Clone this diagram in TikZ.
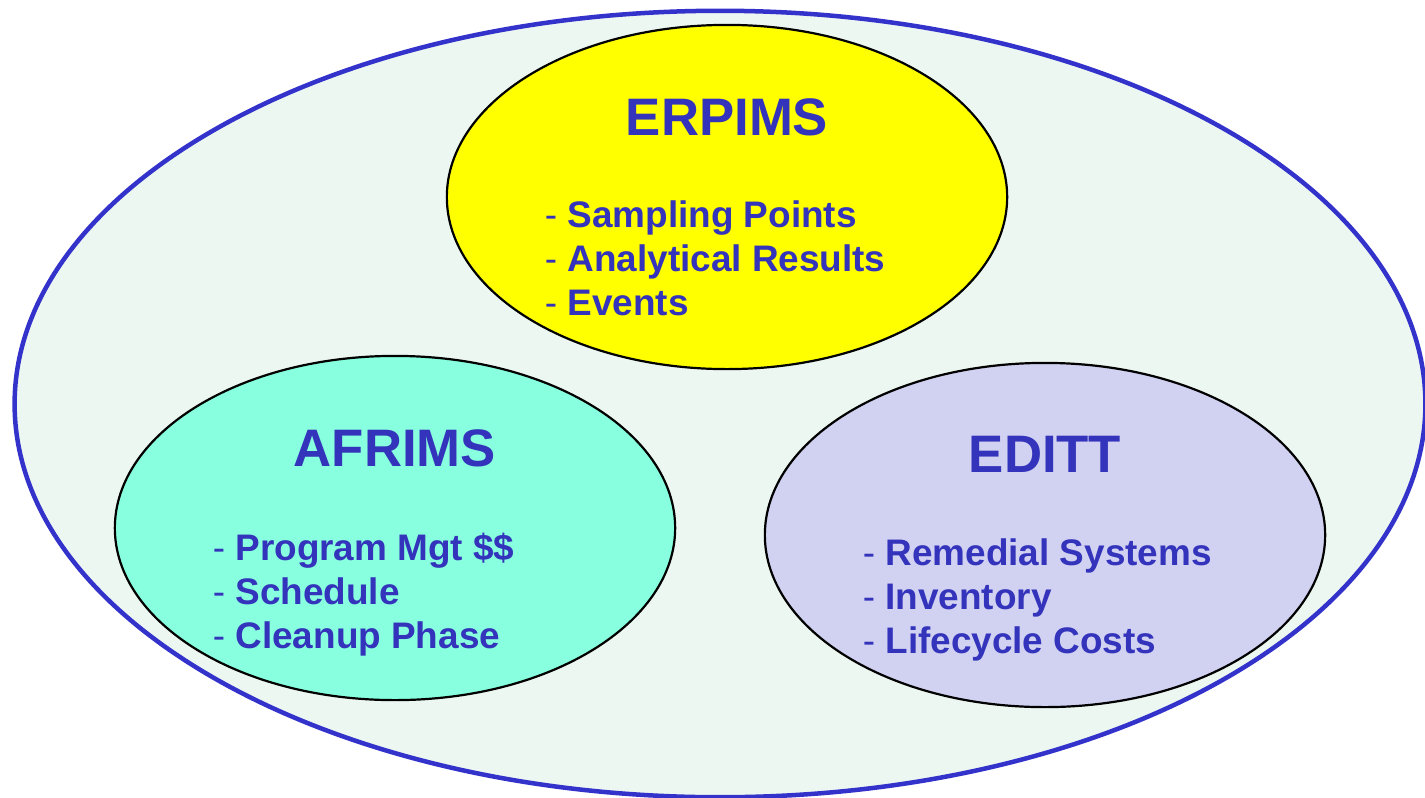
\documentclass[tikz,border=0pt]{standalone}
\usepackage{fontspec}
\setmainfont{Liberation Sans}
\usepackage{tikz}
\usetikzlibrary{positioning,shapes.geometric}
\definecolor{ringblue}{RGB}{51,51,204}
\definecolor{textblue}{RGB}{51,51,187}
\definecolor{mintbg}{RGB}{237,247,241}
\definecolor{lemon}{RGB}{255,255,0}
\definecolor{aqua}{RGB}{136,255,222}
\definecolor{lavender}{RGB}{209,209,242}

\begin{document}
\begin{tikzpicture}[x=0.01cm, y=-0.01cm, outer sep=0pt,
		system/.style={ellipse, draw, line width=0.022cm, minimum width=5.6cm, minimum height=3.44cm, inner sep=0pt},
		title/.style={text=textblue, anchor=base, font=\fontsize{15}{18}\selectfont\bfseries},
		items/.style={text=textblue, anchor=base west, align=left, inner sep=0pt, font=\fontsize{10.5}{12.52}\selectfont}]
		\useasboundingbox (0,0) rectangle (1425,797);
		\node[ellipse, draw=ringblue, fill=mintbg, line width=0.045cm, minimum width=14.1cm, minimum height=7.86cm] (region) at (720,404) {};
		\node[system, fill=lemon] (erpims) at (727,197) {};
		\node[system, fill=aqua] (afrims) at (395,528) {};
		\node[system, fill=lavender] (editt) at (1045,535) {};
		\node[title] (erpimstitle) at ([yshift=0.61cm]erpims.center) {ERPIMS};
		\node[items] (erpimslist) at ([xshift=-1.82cm, yshift=-1.18cm]erpims.center) {- \textbf{Sampling Points}\\- \textbf{Analytical Results}\\- \textbf{Events}};
		\node[title] (afrimstitle) at ([yshift=0.61cm]afrims.center) {AFRIMS};
		\node[items] (afrimslist) at ([xshift=-1.82cm, yshift=-1.2cm]afrims.center) {- \textbf{Program Mgt \$\$}\\- \textbf{Schedule}\\- \textbf{Cleanup Phase}};
		\node[title] (edittitle) at ([yshift=0.62cm]editt.center) {EDITT};
		\node[items] (edittlist) at ([xshift=-1.82cm, yshift=-1.18cm]editt.center) {- \textbf{Remedial Systems}\\- \textbf{Inventory}\\- \textbf{Lifecycle Costs}};
	\end{tikzpicture}
\end{document}
